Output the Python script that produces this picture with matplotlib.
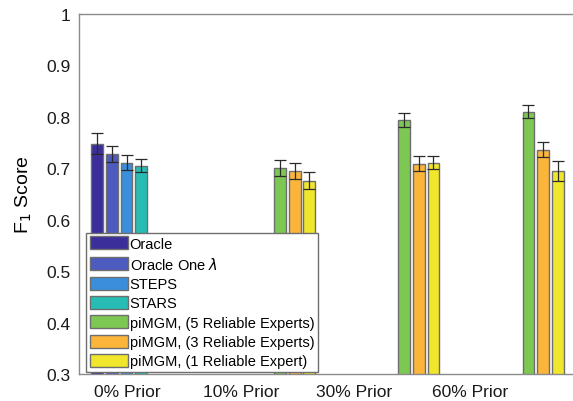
import numpy as np
import matplotlib
matplotlib.use("Agg")
import matplotlib.pyplot as plt
from matplotlib.patches import Patch

plt.rcParams['font.family'] = ['Liberation Sans', 'DejaVu Sans']

groups = ["0% Prior", "10% Prior", "30% Prior", "60% Prior"]
series = ["Oracle", "Oracle One $\\lambda$", "STEPS", "STARS",
          "piMGM, (5 Reliable Experts)", "piMGM, (3 Reliable Experts)",
          "piMGM, (1 Reliable Expert)"]
colors = ["#3B2E9A", "#4D5BBF", "#3A8EDB", "#27BDB4",
          "#7CC852", "#FAB53A", "#F0E62C"]

# F1 scores per series (rows) across the prior levels (columns); nan = not run
nan = np.nan
f1 = np.array([
    [0.748, nan, nan, nan],
    [0.728, nan, nan, nan],
    [0.711, nan, nan, nan],
    [0.705, nan, nan, nan],
    [nan, 0.701, 0.794, 0.810],
    [nan, 0.695, 0.709, 0.736],
    [nan, 0.676, 0.711, 0.695],
])
err = np.array([
    [0.021, nan, nan, nan],
    [0.016, nan, nan, nan],
    [0.014, nan, nan, nan],
    [0.013, nan, nan, nan],
    [nan, 0.016, 0.014, 0.013],
    [nan, 0.016, 0.015, 0.015],
    [nan, 0.017, 0.013, 0.019],
])

W, H = 573, 402
fig = plt.figure(figsize=(W / 100, H / 100), dpi=100)
ax = fig.add_axes([79 / W, (H - 375) / H, 497 / W, 360 / H])

x = np.arange(1, len(groups) + 1)
n = len(series)
step = 0.8235 / n
width = 0.096
for i in range(n):
    xi = x + (i - (n - 1) / 2) * step
    ax.bar(xi, f1[i], width=width, color=colors[i], edgecolor="#6E6E6E",
           linewidth=1.0, zorder=2)
    ax.errorbar(xi, f1[i], yerr=err[i], fmt="none", ecolor="#2A2A2A",
                elinewidth=0.9, capsize=4, capthick=0.9, zorder=3)

ax.set_xlim(0.5, 4.5)
ax.set_ylim(0.3, 1.0)
ax.set_yticks(np.arange(0.3, 1.01, 0.1))
ax.set_yticklabels(["0.3", "0.4", "0.5", "0.6", "0.7", "0.8", "0.9", "1"])
label_x = [0.887, 1.806, 2.718, 3.645]
ax.set_xticks(label_x)
ax.set_xticklabels(groups)
ax.tick_params(axis="both", length=0, labelsize=12.5, colors="#1A1A1A")
ax.tick_params(axis="y", pad=6)
ax.tick_params(axis="x", pad=7)
for s in ax.spines.values():
    s.set_color("#8A8A8A")
    s.set_linewidth(1.0)
ax.set_ylabel("F$_1$ Score", fontsize=14, labelpad=9)

handles = [Patch(facecolor=c, edgecolor="#6E6E6E", linewidth=1.0) for c in colors]
leg = ax.legend(handles, series, loc="lower left",
                bbox_to_anchor=(7 / 497, 2 / 360), fontsize=10.5,
                frameon=True, fancybox=False, framealpha=1.0,
                edgecolor="#6E6E6E", handlelength=2.6, handleheight=1.0,
                handletextpad=0.15, labelspacing=0.33, borderpad=0.25,
                borderaxespad=0.0)
leg.get_frame().set_linewidth(1.0)
leg.set_zorder(5)

fig.savefig("out.png", dpi=100)
